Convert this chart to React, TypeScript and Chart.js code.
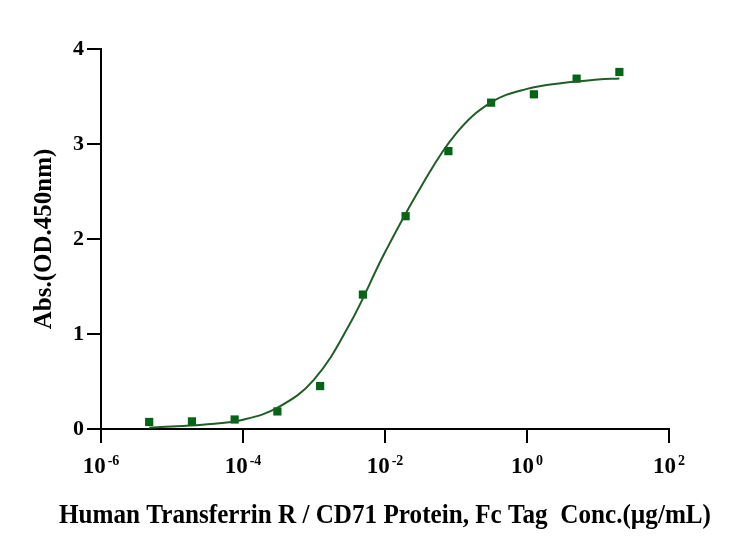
import React, { useEffect, useRef } from 'react';
import { Chart, registerables } from 'chart.js';

Chart.register(...registerables);

// measured points (conc in ug/mL, OD450)
const concentrations = [4.77e-6, 1.91e-5, 7.63e-5, 3.05e-4, 1.22e-3, 4.88e-3, 1.95e-2, 7.81e-2, 0.3125, 1.25, 5, 20];
const absorbance = [0.074, 0.08, 0.1, 0.185, 0.452, 1.415, 2.24, 2.925, 3.435, 3.523, 3.688, 3.758];

// fitted curve
const fitConc = [4.77e-6, 1e-5, 3.16e-5, 1e-4, 3.16e-4, 1e-3, 3.16e-3, 1e-2, 3.16e-2, 0.1, 0.316, 1, 3.16, 10, 20];
const fitAbs = [0.014, 0.026, 0.05, 0.098, 0.23, 0.52, 1.1, 1.86, 2.54, 3.11, 3.44, 3.58, 3.643, 3.678, 3.69];

const xTickExponents = [-6, -4, -2, 0, 2];
const yTicks = [0, 1, 2, 3, 4];

const xTitle = 'Human Transferrin R / CD71 Protein, Fc Tag  Conc.(\u00b5g/mL)';
const yTitle = 'Abs.(OD.450nm)';

const FONT = '"Liberation Serif", "Times New Roman", serif';

const textPlugin = {
  id: 'axisText',
  afterDraw(chart: any) {
    const { ctx, chartArea } = chart;
    const xs = chart.scales.x;
    ctx.save();
    ctx.fillStyle = '#000';

    // x tick labels: 10 with superscript exponent
    xTickExponents.forEach((exp) => {
      const px = xs.getPixelForValue(Math.pow(10, exp));
      const sup = String(exp);
      ctx.font = `bold 23px ${FONT}`;
      const wBase = ctx.measureText('10').width;
      ctx.font = `bold 14px ${FONT}`;
      const wSup = ctx.measureText(sup).width;
      const gap = 2;
      const start = px - (wBase + gap + wSup) / 2;
      ctx.textAlign = 'left';
      ctx.textBaseline = 'alphabetic';
      ctx.font = `bold 23px ${FONT}`;
      ctx.fillText('10', start, chartArea.bottom + 44);
      ctx.font = `bold 14px ${FONT}`;
      ctx.fillText(sup, start + wBase + gap, chartArea.bottom + 36);
    });

    // x title
    ctx.font = `bold 28px ${FONT}`;
    ctx.textAlign = 'center';
    ctx.textBaseline = 'alphabetic';
    ctx.fillText(xTitle, (chartArea.left + chartArea.right) / 2, 523, 652);

    // y title
    ctx.translate(45, (chartArea.top + chartArea.bottom) / 2);
    ctx.rotate(-Math.PI / 2);
    ctx.font = `bold 25px ${FONT}`;
    ctx.textAlign = 'center';
    ctx.textBaseline = 'middle';
    ctx.fillText(yTitle, 0, 0);
    ctx.restore();
  },
};

const App: React.FC = () => {
  const canvasRef = useRef<HTMLCanvasElement | null>(null);

  useEffect(() => {
    document.body.style.margin = '0';
    if (!canvasRef.current) return;
    const chart = new Chart(canvasRef.current, {
      type: 'scatter',
      data: {
        datasets: [
          {
            type: 'line',
            label: 'Fit',
            data: fitConc.map((c, i) => ({ x: c, y: fitAbs[i] })),
            borderColor: '#1f5f25',
            borderWidth: 2,
            pointRadius: 0,
            fill: false,
            tension: 0.4,
          },
          {
            label: 'Data',
            data: concentrations.map((c, i) => ({ x: c, y: absorbance[i] })),
            backgroundColor: '#006616',
            borderColor: '#006616',
            pointStyle: 'rect',
            pointRadius: 5.8,
            borderWidth: 0,
          },
        ],
      },
      options: {
        responsive: false,
        animation: false,
        layout: { padding: { left: 0, right: 79, top: 49, bottom: 0 } },
        plugins: {
          legend: { display: false },
          tooltip: { enabled: false },
        },
        scales: {
          x: {
            type: 'logarithmic',
            min: 1e-6,
            max: 1e2,
            afterBuildTicks: (s: any) => {
              s.ticks = xTickExponents.map((e) => ({ value: Math.pow(10, e), major: true }));
            },
            afterFit: (s: any) => {
              s.height = 123;
            },
            ticks: { display: false },
            grid: {
              drawOnChartArea: false,
              tickLength: 14,
              color: '#000',
              lineWidth: 2,
            },
            border: { color: '#000', width: 2 },
          },
          y: {
            min: 0,
            max: 4,
            afterBuildTicks: (s: any) => {
              s.ticks = yTicks.map((v) => ({ value: v }));
            },
            afterFit: (s: any) => {
              s.width = 101;
            },
            ticks: {
              color: '#000',
              padding: 3,
              font: { family: FONT, size: 22, weight: 'bold' },
            },
            grid: {
              drawOnChartArea: false,
              tickLength: 14,
              color: '#000',
              lineWidth: 2,
            },
            border: { color: '#000', width: 2 },
          },
        },
      },
      plugins: [textPlugin],
    } as any);
    return () => chart.destroy();
  }, []);

  return <canvas ref={canvasRef} width={748} height={552} />;
};

export default App;
